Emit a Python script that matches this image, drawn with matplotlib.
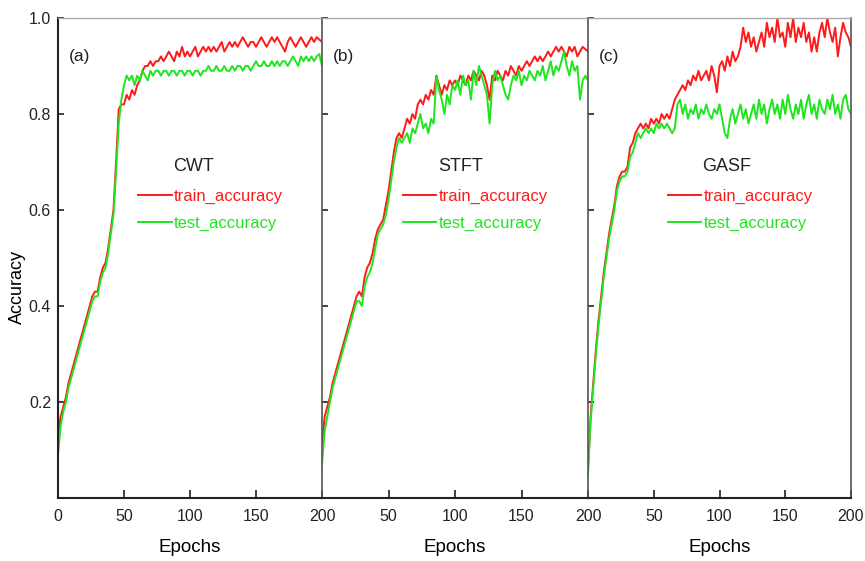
import matplotlib
matplotlib.use("Agg")
import matplotlib.pyplot as plt
import numpy as np

plt.rcParams['font.family'] = ['Liberation Sans', 'DejaVu Sans']

# epochs sampled every 2
epochs = np.arange(0, 201, 2)

# (a) CWT
cwt_train = [
    0.13, 0.17, 0.19, 0.21, 0.24, 0.26, 0.28, 0.30, 0.32, 0.34,
    0.36, 0.38, 0.40, 0.42, 0.43, 0.43, 0.46, 0.48, 0.49, 0.52,
    0.56, 0.60, 0.70, 0.81, 0.82, 0.82, 0.84, 0.83, 0.85, 0.84,
    0.86, 0.87, 0.89, 0.90, 0.90, 0.91, 0.90, 0.91, 0.91, 0.92,
    0.91, 0.92, 0.93, 0.92, 0.91, 0.93, 0.92, 0.94, 0.92, 0.93,
    0.92, 0.93, 0.94, 0.92, 0.93, 0.94, 0.93, 0.94, 0.93, 0.94,
    0.93, 0.94, 0.95, 0.93, 0.94, 0.95, 0.94, 0.95, 0.94, 0.95,
    0.96, 0.95, 0.94, 0.95, 0.95, 0.94, 0.95, 0.96, 0.95, 0.94,
    0.95, 0.96, 0.95, 0.96, 0.95, 0.94, 0.93, 0.95, 0.96, 0.95,
    0.94, 0.95, 0.96, 0.95, 0.94, 0.95, 0.96, 0.95, 0.96, 0.955,
    0.95]
cwt_test = [
    0.09, 0.15, 0.18, 0.20, 0.23, 0.25, 0.27, 0.29, 0.31, 0.33,
    0.35, 0.37, 0.39, 0.41, 0.42, 0.42, 0.45, 0.47, 0.48, 0.51,
    0.55, 0.59, 0.68, 0.78, 0.83, 0.86, 0.88, 0.87, 0.88, 0.86,
    0.88, 0.87, 0.89, 0.88, 0.87, 0.89, 0.88, 0.89, 0.89, 0.88,
    0.89, 0.89, 0.88, 0.89, 0.89, 0.88, 0.89, 0.89, 0.88, 0.89,
    0.89, 0.88, 0.89, 0.89, 0.88, 0.89, 0.89, 0.90, 0.89, 0.89,
    0.90, 0.89, 0.89, 0.90, 0.89, 0.89, 0.90, 0.89, 0.90, 0.90,
    0.89, 0.90, 0.90, 0.89, 0.90, 0.91, 0.90, 0.90, 0.91, 0.90,
    0.90, 0.91, 0.90, 0.91, 0.90, 0.91, 0.91, 0.90, 0.91, 0.92,
    0.91, 0.90, 0.92, 0.91, 0.92, 0.91, 0.92, 0.91, 0.92, 0.925,
    0.90]

# (b) STFT
stft_train = [
    0.11, 0.17, 0.19, 0.21, 0.24, 0.26, 0.28, 0.30, 0.32, 0.34,
    0.36, 0.38, 0.40, 0.42, 0.43, 0.42, 0.46, 0.48, 0.49, 0.51,
    0.54, 0.56, 0.57, 0.58, 0.61, 0.64, 0.68, 0.72, 0.75, 0.76,
    0.75, 0.77, 0.79, 0.78, 0.80, 0.79, 0.82, 0.83, 0.82, 0.84,
    0.83, 0.85, 0.84, 0.88, 0.86, 0.84, 0.86, 0.85, 0.87, 0.86,
    0.87, 0.86, 0.88, 0.87, 0.86, 0.88, 0.87, 0.89, 0.88, 0.87,
    0.89, 0.88, 0.86, 0.83, 0.88, 0.87, 0.89, 0.88, 0.87, 0.89,
    0.88, 0.90, 0.89, 0.88, 0.90, 0.89, 0.90, 0.91, 0.90, 0.91,
    0.92, 0.91, 0.92, 0.91, 0.92, 0.93, 0.92, 0.93, 0.94, 0.93,
    0.94, 0.93, 0.92, 0.94, 0.93, 0.94, 0.92, 0.93, 0.94, 0.935,
    0.93]
stft_test = [
    0.07, 0.14, 0.17, 0.20, 0.23, 0.25, 0.27, 0.29, 0.31, 0.33,
    0.35, 0.37, 0.39, 0.41, 0.41, 0.40, 0.44, 0.46, 0.47, 0.49,
    0.52, 0.55, 0.56, 0.57, 0.59, 0.62, 0.66, 0.70, 0.73, 0.75,
    0.74, 0.75, 0.76, 0.74, 0.77, 0.76, 0.78, 0.80, 0.77, 0.78,
    0.76, 0.79, 0.78, 0.88, 0.85, 0.83, 0.80, 0.84, 0.82, 0.86,
    0.85, 0.87, 0.84, 0.88, 0.86, 0.87, 0.83, 0.89, 0.86, 0.90,
    0.88, 0.86, 0.84, 0.78, 0.86, 0.89, 0.87, 0.88, 0.86, 0.84,
    0.83, 0.86, 0.88, 0.87, 0.89, 0.86, 0.88, 0.87, 0.89, 0.88,
    0.87, 0.89, 0.88, 0.90, 0.87, 0.89, 0.91, 0.88, 0.90, 0.89,
    0.91, 0.93, 0.90, 0.88, 0.91, 0.89, 0.90, 0.83, 0.87, 0.88,
    0.87]

# (c) GASF
gasf_train = [
    0.06, 0.17, 0.24, 0.31, 0.37, 0.42, 0.47, 0.51, 0.55, 0.58,
    0.61, 0.65, 0.67, 0.68, 0.68, 0.69, 0.73, 0.74, 0.76, 0.77,
    0.78, 0.77, 0.78, 0.77, 0.79, 0.78, 0.79, 0.78, 0.80, 0.79,
    0.80, 0.79, 0.81, 0.83, 0.84, 0.85, 0.86, 0.85, 0.87, 0.86,
    0.88, 0.87, 0.89, 0.87, 0.88, 0.89, 0.87, 0.90, 0.88, 0.845,
    0.90, 0.91, 0.89, 0.92, 0.90, 0.93, 0.91, 0.92, 0.94, 0.98,
    0.95, 0.97, 0.94, 0.96, 0.93, 0.95, 0.97, 0.94, 0.99, 0.96,
    0.98, 0.95, 1.00, 0.96, 0.97, 0.94, 0.99, 0.96, 1.00, 0.95,
    0.98, 0.96, 0.99, 0.95, 0.97, 0.93, 0.96, 0.93, 0.97, 0.99,
    0.96, 1.00, 0.97, 0.95, 0.98, 0.92, 0.96, 0.99, 0.97, 0.96,
    0.94]
gasf_test = [
    0.05, 0.16, 0.23, 0.30, 0.36, 0.41, 0.46, 0.50, 0.54, 0.57,
    0.60, 0.64, 0.66, 0.67, 0.67, 0.68, 0.71, 0.72, 0.74, 0.76,
    0.75, 0.76, 0.77, 0.76, 0.77, 0.76, 0.78, 0.77, 0.78, 0.77,
    0.78, 0.77, 0.76, 0.77, 0.82, 0.83, 0.80, 0.82, 0.79, 0.81,
    0.80, 0.82, 0.79, 0.81, 0.80, 0.82, 0.80, 0.79, 0.81, 0.80,
    0.82, 0.79, 0.76, 0.75, 0.79, 0.81, 0.78, 0.80, 0.82, 0.79,
    0.81, 0.78, 0.80, 0.82, 0.79, 0.83, 0.80, 0.82, 0.78, 0.81,
    0.83, 0.80, 0.82, 0.79, 0.83, 0.80, 0.84, 0.81, 0.79, 0.82,
    0.80, 0.83, 0.79, 0.82, 0.84, 0.80, 0.82, 0.79, 0.83, 0.81,
    0.80, 0.83, 0.81, 0.84, 0.80, 0.82, 0.79, 0.83, 0.84, 0.81,
    0.80]

panels = [("(a)", "CWT", cwt_train, cwt_test),
          ("(b)", "STFT", stft_train, stft_test),
          ("(c)", "GASF", gasf_train, gasf_test)]

RED = "#ff1a1a"
GREEN = "#1ee61e"
SPINE = "#555555"

W, H = 865, 561
fig = plt.figure(figsize=(W / 100, H / 100), dpi=100)
fig.patch.set_facecolor("white")

edges = [58, 322, 588, 851]
top_px, bot_px = 18, 498

for i, (tag, name, tr, te) in enumerate(panels):
    x0, x1 = edges[i], edges[i + 1]
    ax = fig.add_axes([x0 / W, 1 - bot_px / H, (x1 - x0) / W, (bot_px - top_px) / H])
    ax.plot(epochs, tr, color=RED, lw=1.4, label="train_accuracy")
    ax.plot(epochs, te, color=GREEN, lw=1.4, label="test_accuracy")
    ax.set_xlim(0, 200)
    ax.set_ylim(0, 1.0)
    ax.set_xticks([0, 50, 100, 150, 200])
    ax.set_yticks([0.2, 0.4, 0.6, 0.8, 1.0])
    ax.tick_params(direction="in", width=1.3, color="#333333",
                   labelsize=11.5, labelcolor="#222222")
    ax.tick_params(axis="x", length=6, pad=8)
    ax.tick_params(axis="y", length=4, pad=5)
    if i == 0:
        ax.set_xticklabels(["0", "50", "100", "150", "200"])
        ax.set_yticklabels(["0.2", "0.4", "0.6", "0.8", "1.0"])
        ax.set_ylabel("Accuracy", fontsize=13)
        ax.yaxis.set_label_coords(-0.12, 0.44)
    else:
        ax.set_xticklabels(["", "50", "100", "150", "200"])
        ax.set_yticklabels([])
    ax.set_xlabel("Epochs", fontsize=13.5, labelpad=11)
    for s in ["left", "bottom", "right"]:
        ax.spines[s].set_color(SPINE)
        ax.spines[s].set_linewidth(1.2)
    ax.spines["bottom"].set_color("#222222")
    ax.spines["bottom"].set_linewidth(1.5)
    ax.spines["top"].set_color("#aaaaaa")
    ax.spines["top"].set_linewidth(1.0)
    if i == 0:
        ax.spines["left"].set_color("#222222")
        ax.spines["left"].set_linewidth(1.5)
    if i < 2:
        ax.spines["right"].set_color("#999999")
        ax.spines["right"].set_linewidth(1.0)

    ax.text(0.04, 0.92, tag, transform=ax.transAxes, fontsize=12.5,
            ha="left", va="center", color="#222222")
    ax.text(0.435, 0.69, name, transform=ax.transAxes, fontsize=13,
            ha="left", va="center", color="#222222")
    ax.legend(loc="upper left", bbox_to_anchor=(0.26, 0.668), frameon=False,
              fontsize=12, labelcolor="linecolor", handlelength=2.0,
              handletextpad=0.15, labelspacing=0.68, borderpad=0.2)

fig.savefig("out.png", dpi=100, facecolor="white")
